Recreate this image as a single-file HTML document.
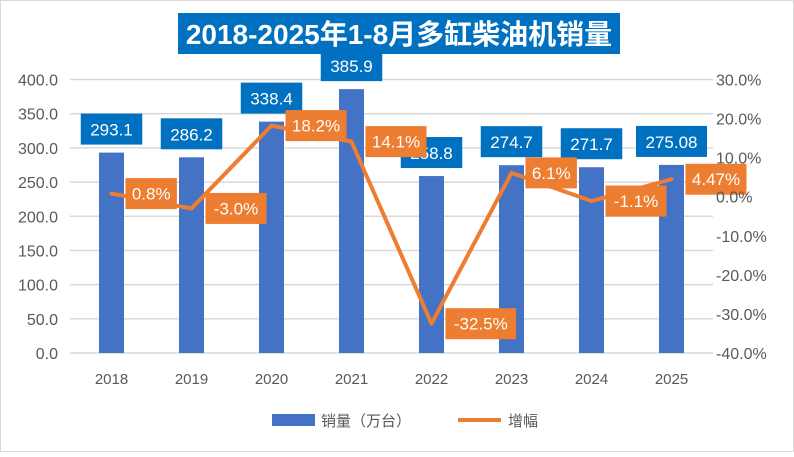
<!DOCTYPE html>
<html><head><meta charset="utf-8"><style>
body{margin:0;background:#fff;}
svg text{font-family:"Liberation Sans","Noto Sans CJK SC",sans-serif;}
</style></head><body>
<svg id="chart" width="794" height="452" viewBox="0 0 794 452" xmlns="http://www.w3.org/2000/svg">
<rect x="0.5" y="0.5" width="793" height="451" fill="#fff" stroke="#d9d9d9"/>
<g id="grid"></g><g id="bars"></g><g id="line"></g><g id="labels"></g><g id="axes"></g>
<rect x="178" y="13" width="442" height="41" fill="#0070C0"/>
<text x="399" y="44" text-anchor="middle" fill="#fff" font-size="28" font-weight="bold">2018-2025年1-8月多缸柴油机销量</text>
<rect x="272" y="414" width="43" height="12" fill="#4472C4"/>
<text x="321" y="426" font-size="15" fill="#595959">销量（万台）</text>
<line x1="458" y1="420" x2="501" y2="420" stroke="#ED7D31" stroke-width="4"/>
<text x="508" y="426" font-size="15" fill="#595959">增幅</text>
</svg>
<script>
const categories=["2018","2019","2020","2021","2022","2023","2024","2025"];
const sales=[293.1,286.2,338.4,385.9,258.8,274.7,271.7,275.08];
const salesLabels=["293.1","286.2","338.4","385.9","258.8","274.7","271.7","275.08"];
const growth=[0.8,-3.0,18.2,14.1,-32.5,6.1,-1.1,4.47];
const growthLabels=["0.8%","-3.0%","18.2%","14.1%","-32.5%","6.1%","-1.1%","4.47%"];
const leftTicks=[0,50,100,150,200,250,300,350,400];
const rightTicks=[-40,-30,-20,-10,0,10,20,30];
const NS="http://www.w3.org/2000/svg";
const X0=71.5,STEP=80,Y0=353,Y1=79.5;
const xs=i=>X0+STEP*(i+0.5);
const yL=v=>Y0-(v/400)*(Y0-Y1);
const yR=v=>Y0-((v+40)/70)*(Y0-Y1);
function mk(tag,attrs,parent){const e=document.createElementNS(NS,tag);for(const k in attrs)e.setAttribute(k,attrs[k]);document.getElementById(parent).appendChild(e);return e;}
leftTicks.forEach((t,i)=>{
 const g=mk('line',{x1:70,x2:713,y1:yL(t),y2:yL(t),stroke:'#d9d9d9','stroke-width':1.5},'grid');
 
 
 const tx=mk('text',{x:58,y:yL(t)+6,'text-anchor':'end','font-size':16,fill:'#595959'},'axes');
 tx.textContent=t.toFixed(1);
 
 
});
rightTicks.forEach(t=>{
 const tx=mk('text',{x:716,y:yR(t)+6,'font-size':16,fill:'#595959'},'axes');
 tx.textContent=t.toFixed(1)+'%';
 
 
});
categories.forEach((c,i)=>{
 const tx=mk('text',{x:xs(i),y:384,'text-anchor':'middle','font-size':15,fill:'#595959'},'axes');
 tx.textContent=c;
 
 
 const b=mk('rect',{x:xs(i)-12.5,y:yL(sales[i]),width:25,height:Y0-yL(sales[i]),fill:'#4472C4'},'bars');
 
 
});
const pts=growth.map((g,i)=>xs(i)+','+yR(g)).join(' ');
const pl=mk('polyline',{points:pts,fill:'none',stroke:'#ED7D31','stroke-width':4,'stroke-linejoin':'round','stroke-linecap':'round'},'line');


categories.forEach((c,i)=>{
 const w=salesLabels[i].length*9.5+14, top=yL(sales[i])-8-31;
 const r=mk('rect',{x:xs(i)-w/2,y:top,width:w,height:31,fill:'#0070C0'},'labels');
 
 
 const t=mk('text',{x:xs(i),y:top+22,'text-anchor':'middle','font-size':17,fill:'#fff'},'labels');
 t.textContent=salesLabels[i];
 
 
});
categories.forEach((c,i)=>{
 const w=growthLabels[i].length*9.6+13, cy=yR(growth[i]), x=xs(i)+14;
 const r=mk('rect',{x:x,y:cy-15.5,width:w,height:31,fill:'#ED7D31'},'labels');
 
 
 const t=mk('text',{x:x+w/2,y:cy+6,'text-anchor':'middle','font-size':17,fill:'#fff'},'labels');
 t.textContent=growthLabels[i];
 
 
});
</script>
</body></html>
